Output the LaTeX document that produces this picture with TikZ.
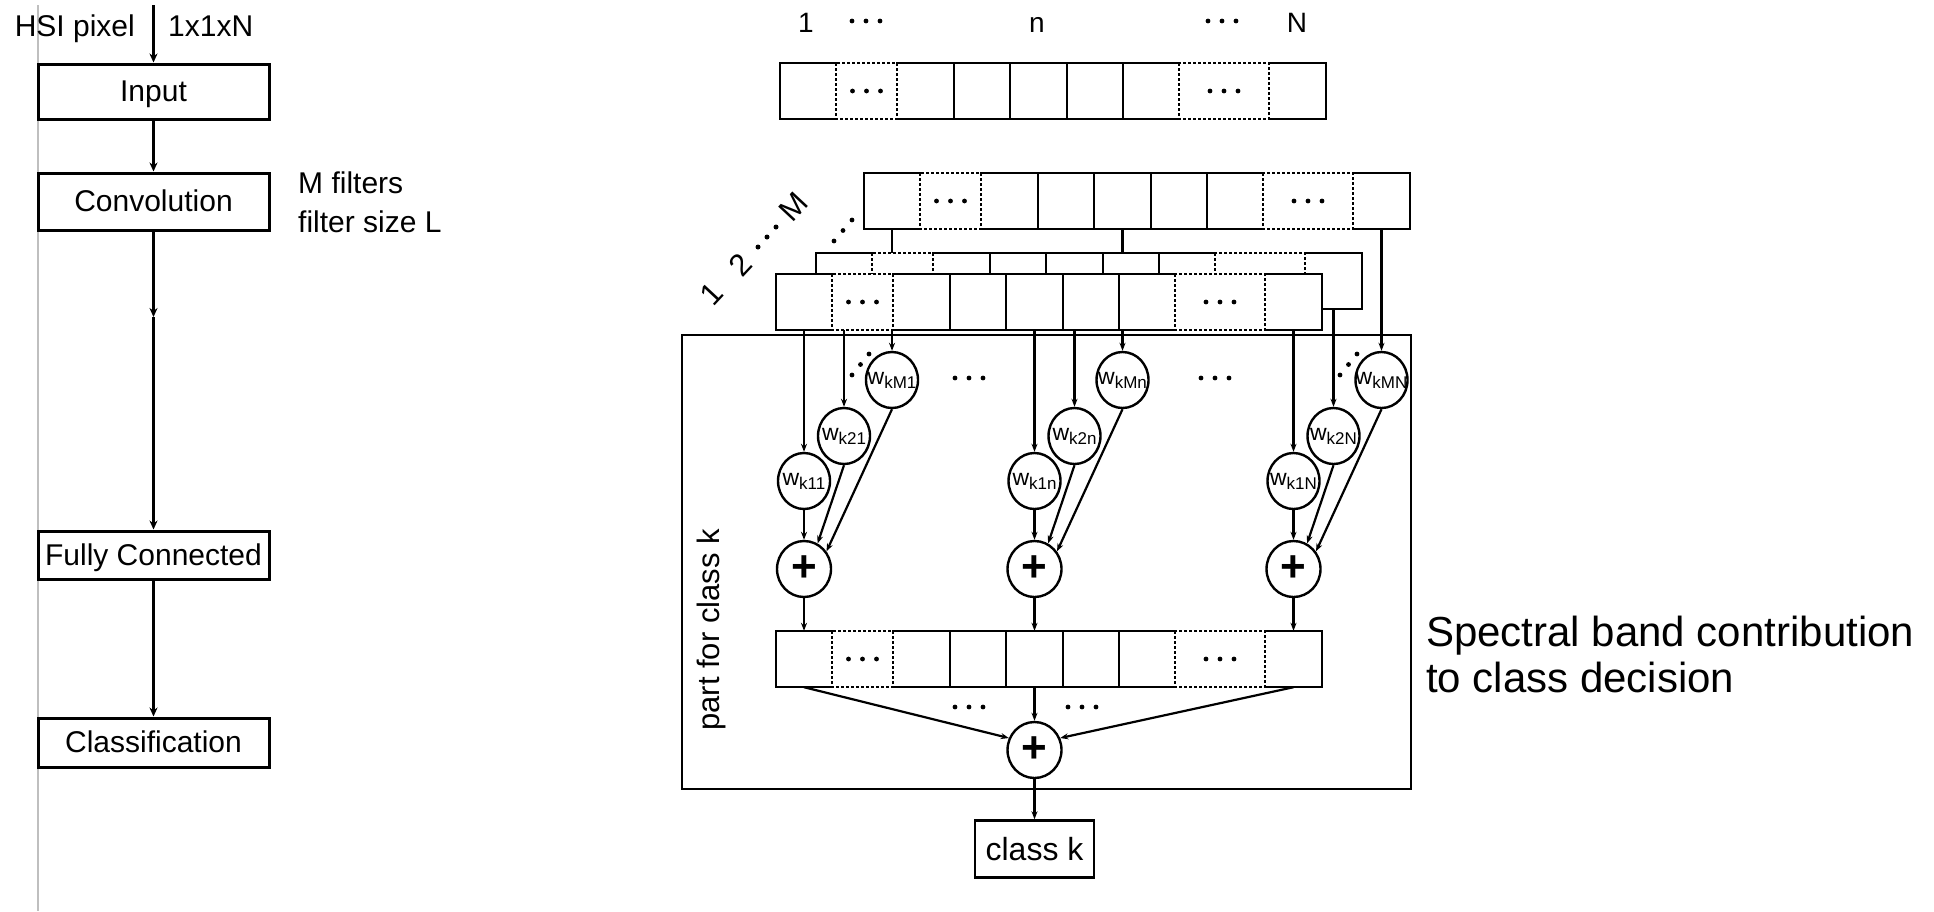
\documentclass[tikz,border=0pt]{standalone}
\usepackage{fontspec}
\setmainfont{Liberation Sans}
\usetikzlibrary{shapes.geometric,arrows.meta,backgrounds}

\newcommand{\fsz}[1]{\fontsize{#1}{#1}\selectfont}
\newcommand{\wlab}[1]{\makebox[0pt]{\fsz{23}w\raisebox{-4pt}{\fsz{17}#1}}}
\newcommand{\threedots}[2]{\foreach \dx in {-14,0,14} \fill (#1+\dx,#2) circle (2.4);}

\tikzset{
  lbox/.style={draw, line width=3pt, minimum width=231pt, inner sep=0pt,
    text height=20pt, text depth=0pt, font=\fsz{30}},
  ltext/.style={inner sep=0pt, font=\fsz{30}},
  larrow/.style={line width=2.6pt, -{Stealth[length=9pt,width=8pt]}},
  cellnd/.style={rectangle, draw=none, inner sep=0pt, minimum height=56pt},
  rowsolid/.style={line width=2.6pt, line cap=rect, line join=miter},
  rowdot/.style={line width=2.6pt, dash pattern=on 2.6pt off 2.4pt},
  wnode/.style={ellipse, draw, line width=2.4pt, fill=white,
    minimum width=52pt, minimum height=56pt, inner sep=0pt},
  pnode/.style={ellipse, draw, line width=2.4pt, fill=white,
    minimum width=54pt, minimum height=56pt, inner sep=0pt,
    font=\fsz{44}\bfseries},
  rarrow/.style={line width=2.2pt, -{Stealth[length=8pt,width=6pt]}},
  toplab/.style={anchor=base, inner sep=0pt, font=\fsz{28}},
  diaglab/.style={rotate=47, inner sep=0pt, font=\fsz{31}},
}

% one row of band cells: name prefix, left x, top y
\newcommand{\bandrow}[3]{%
\begin{scope}[shift={(#2,#3)}]
  \fill[white] (0,0) rectangle (546,56);
  \node[cellnd, minimum width=56pt] (#1c1) at (28,28) {};
  \node[cellnd, minimum width=61pt] (#1d1) at (86.5,28) {};
  \node[cellnd, minimum width=57pt] (#1c2) at (145.5,28) {};
  \node[cellnd, minimum width=56pt] (#1c3) at (202,28) {};
  \node[cellnd, minimum width=57pt] (#1c4) at (258.5,28) {};
  \node[cellnd, minimum width=56pt] (#1c5) at (315,28) {};
  \node[cellnd, minimum width=56pt] (#1c6) at (371,28) {};
  \node[cellnd, minimum width=90pt] (#1d2) at (444,28) {};
  \node[cellnd, minimum width=57pt] (#1c7) at (517.5,28) {};
  \draw[rowsolid] (56,0) -- (0,0) -- (0,56) -- (56,56);
  \draw[rowsolid] (117,0) -- (399,0) (117,56) -- (399,56);
  \foreach \xx in {174,230,287,343} \draw[rowsolid] (\xx,0) -- (\xx,56);
  \draw[rowsolid] (489,0) -- (546,0) -- (546,56) -- (489,56);
  \draw[rowdot] (56,0) rectangle (117,56);
  \draw[rowdot] (399,0) rectangle (489,56);
  \threedots{86.5}{28}
  \threedots{444}{28}
\end{scope}}

\begin{document}
\begin{tikzpicture}[x=1pt,y=-1pt]
\useasboundingbox (0,0) rectangle (1934,911);

% ---------------- left column ----------------
\draw[black!25, line width=1.2pt] (38,5) -- (38,911);
\node[lbox, minimum height=55pt] (inp) at (153.5,91.5) {Input};
\node[lbox, minimum height=57pt] (conv) at (153.5,201.5) {Convolution};
\node[lbox, minimum height=48pt] (fc) at (153.5,555) {Fully Connected};
\node[lbox, minimum height=49pt] (cls) at (153.5,742.5) {Classification};
\coordinate (src) at (153.5,5);
\coordinate (mid) at (153.5,317);
\draw[larrow] (src) -- (inp);
\draw[larrow] (inp) -- (conv);
\draw[larrow] (conv) -- (mid);
\draw[larrow] (mid) -- (fc);
\draw[larrow] (fc) -- (cls);
\node[ltext, anchor=base east] (hsi) at (135,36) {HSI pixel};
\node[ltext, anchor=base west] (dim) at (168,36) {1x1xN};
\node[ltext, anchor=base west] (mf) at (298,193) {M filters};
\node[ltext, anchor=base west] (fs) at (298,232) {filter size L};

% ---------------- right diagram ----------------
\node[toplab] (l1) at (806,32) {1};
\node[toplab] (ln) at (1037,32) {n};
\node[toplab] (lN) at (1297,32) {N};
\threedots{866}{21}
\threedots{1222}{21}

\bandrow{T}{780}{63}
\bandrow{B}{864}{173}
\bandrow{Mr}{816}{253}
\bandrow{F}{776}{274}

% filter index labels along the diagonal
\node[diaglab] (f1) at (712,294) {1};
\node[diaglab] (f2) at (740,265) {2};
\node[diaglab] (fM) at (793,207) {M};
\fill (758,247) circle (2.5) (767,237) circle (2.5) (776,227) circle (2.5);
\fill (834,241) circle (2.4) (843,230.5) circle (2.4) (852,220) circle (2.4);

% class-k frame
\draw[line width=2.4pt] (682,335) rectangle (1411,789);
\node[rotate=90, anchor=base, inner sep=0pt, font=\fsz{31}] (part) at (719,630) {part for class k};

% weight ellipses
\node[wnode] (wM1) at (892,380) {\wlab{kM1}};
\node[wnode] (w21) at (844,436) {\wlab{k21}};
\node[wnode] (w11) at (804,481) {\wlab{k11}};
\node[pnode] (p1) at (804,569) {+};
\node[wnode] (wMn) at (1122.5,380) {\wlab{kMn}};
\node[wnode] (w2n) at (1074.5,436) {\wlab{k2n}};
\node[wnode] (w1n) at (1034.5,481) {\wlab{k1n}};
\node[pnode] (pn) at (1034.5,569) {+};
\node[wnode] (wMN) at (1381.5,380) {\wlab{kMN}};
\node[wnode] (w2N) at (1333.5,436) {\wlab{k2N}};
\node[wnode] (w1N) at (1293.5,481) {\wlab{k1N}};
\node[pnode] (pN) at (1293.5,569) {+};

\fill (852,375) circle (2.4) (860.5,364.5) circle (2.4) (869,354) circle (2.4);
\fill (1340,375) circle (2.4) (1348.5,364.5) circle (2.4) (1357,354) circle (2.4);
\threedots{969}{378}
\threedots{1215}{378}

\bandrow{S}{776}{631}
\threedots{969}{707}
\threedots{1082}{707}

\node[pnode] (pf) at (1034.5,750) {+};
\node[draw, line width=2.4pt, minimum width=119pt, minimum height=57pt,
  inner sep=0pt, font=\fsz{32}] (ck) at (1034.5,849) {class k};

\begin{scope}[on background layer]
  \draw[rarrow] (Bc1.south) -- (wM1.north);
  \draw[rarrow] (Bc4.south) -- (wMn.north);
  \draw[rarrow] (Bc7.south) -- (wMN.north);
  \draw[rarrow] (Mrc1.south) -- (w21.north);
  \draw[rarrow] (Mrc4.south) -- (w2n.north);
  \draw[rarrow] (Mrc7.south) -- (w2N.north);
  \draw[rarrow] (Fc1.south) -- (w11.north);
  \draw[rarrow] (Fc4.south) -- (w1n.north);
  \draw[rarrow] (Fc7.south) -- (w1N.north);
\end{scope}
\draw[rarrow] (w11.south) -- (p1.north);
\draw[rarrow] (w21.south) -- (p1.62);
\draw[rarrow] (wM1.south) -- (p1.38);
\draw[rarrow] (w1n.south) -- (pn.north);
\draw[rarrow] (w2n.south) -- (pn.62);
\draw[rarrow] (wMn.south) -- (pn.38);
\draw[rarrow] (w1N.south) -- (pN.north);
\draw[rarrow] (w2N.south) -- (pN.62);
\draw[rarrow] (wMN.south) -- (pN.38);
\draw[rarrow] (p1.south) -- (Sc1.north);
\draw[rarrow] (pn.south) -- (Sc4.north);
\draw[rarrow] (pN.south) -- (Sc7.north);
\draw[rarrow] (Sc1.south) -- (pf.155);
\draw[rarrow] (Sc4.south) -- (pf.north);
\draw[rarrow] (Sc7.south) -- (pf.25);
\draw[rarrow] (pf.south) -- (ck.north);

\node[anchor=north west, align=left, inner sep=0pt, font=\fontsize{42}{46}\selectfont]
  (spec) at (1426,616) {Spectral band contribution\\to class decision};
\end{tikzpicture}
\end{document}
